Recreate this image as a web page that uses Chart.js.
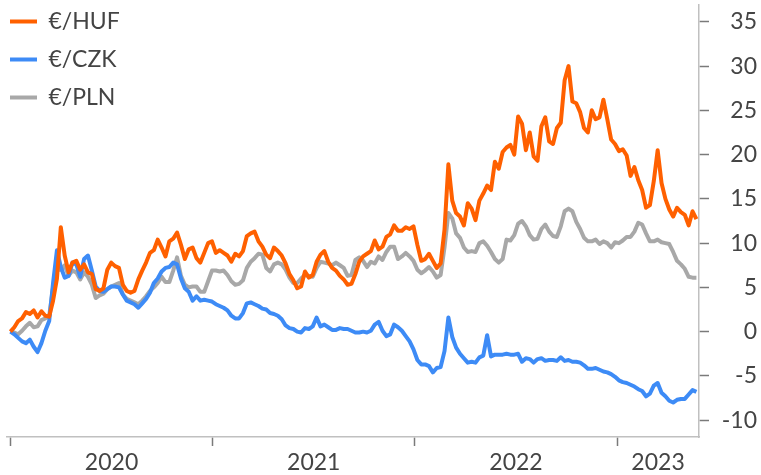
<!DOCTYPE html>
<html>
<head>
<meta charset="utf-8">
<script src="https://cdn.jsdelivr.net/npm/chart.js@4.4.1/dist/chart.umd.min.js"></script>
<style>
  html, body { margin: 0; padding: 0; background: #fff; }
  #wrap { width: 761px; height: 475px; }
</style>
</head>
<body>
<div id="wrap"><canvas id="fxChart" width="761" height="475"></canvas></div>
<script>
// weekly % change vs. first week of 2020
const startYear = 2020;
const seriesNames = ['€/HUF', '€/CZK', '€/PLN'];

const hufChange = [
  0, 0.5, 1.2, 1.5, 2.2, 2.0, 2.4, 1.6, 2.3, 1.8,
  1.7, 3.5, 6.0, 11.8, 8.6, 6.7, 7.8, 8.0, 7.0, 7.6,
  6.7, 6.5, 4.8, 4.6, 4.9, 7.0, 7.8, 7.4, 7.2, 5.3,
  4.6, 4.4, 4.6, 5.9, 6.9, 7.8, 8.9, 9.2, 10.4, 9.5,
  8.5, 10.2, 10.5, 11.2, 9.8, 8.2, 9.3, 9.5, 8.3, 7.8,
  8.9, 10.0, 10.2, 8.9, 9.2, 8.9, 8.6, 7.9, 8.8, 8.5,
  9.1, 10.8, 11.1, 11.3, 10.2, 9.6, 8.7, 8.3, 9.5, 9.1,
  8.6, 7.7, 6.5, 5.8, 4.9, 5.1, 6.8, 6.1, 6.4, 7.9,
  8.7, 9.1, 7.9, 7.2, 6.9, 6.3, 5.9, 5.3, 5.4, 6.5,
  7.9, 8.5, 8.8, 9.1, 10.3, 9.3, 9.6, 10.7, 11.0, 12.0,
  11.4, 11.4, 11.8, 11.6, 11.9, 9.8, 8.0, 8.2, 8.8, 8.0,
  7.2, 7.7, 11.5, 18.9, 14.8, 13.4, 13.0, 12.0, 14.5, 13.9,
  12.6, 14.8, 15.6, 16.5, 16.0, 19.2, 18.4, 20.3, 20.8, 21.1,
  20.0, 24.3, 23.5, 20.5, 22.5, 19.8, 19.3, 23.2, 24.2, 21.5,
  21.2, 23.0, 23.6, 28.4, 30.0, 26.0, 25.8, 24.8, 23.0, 22.5,
  25.0, 24.0, 24.2, 26.2, 24.0, 21.7, 21.2, 20.4, 20.6, 19.9,
  17.6, 18.6, 17.1, 16.0, 14.0, 14.3, 17.0, 20.5, 16.8, 15.0,
  13.8, 13.0, 14.0, 13.5, 13.2, 12.0, 13.6, 12.7
];

const czkChange = [
  0, -0.3, -0.7, -1.1, -1.3, -0.9, -1.7, -2.3, -1.3, 0.1,
  1.2, 5.5, 9.2, 7.3, 6.1, 6.3, 7.8, 7.6, 6.2, 8.2,
  8.6, 6.9, 5.1, 4.6, 4.5, 4.8, 5.1, 5.1, 5.0, 4.2,
  3.5, 3.3, 3.1, 2.7, 3.2, 3.7, 4.4, 5.5, 6.0, 6.8,
  7.2, 7.3, 7.8, 7.6, 6.0, 4.9, 4.5, 3.5, 4.0, 3.5,
  3.6, 3.5, 3.4, 3.1, 2.9, 2.7, 2.4, 1.8, 1.5, 1.5,
  2.1, 3.2, 3.3, 3.1, 2.9, 2.6, 2.5, 2.1, 2.0, 1.8,
  1.4, 0.7, 0.4, 0.3, 0.0, -0.1, 0.4, 0.3, 0.6, 1.6,
  0.6, 0.8, 0.5, 0.2, 0.2, 0.4, 0.3, 0.3, 0.1, -0.1,
  -0.1, 0.0, -0.1, 0.1, 0.8, 1.1, 0.1, -0.5, -0.3, 0.8,
  0.5, 0.1, -0.5, -1.1, -2.0, -3.2, -3.7, -3.7, -3.9, -4.6,
  -4.1, -4.0, -2.2, 1.6, -0.6, -1.8, -2.5, -3.0, -3.5, -3.4,
  -3.5, -2.9, -2.7, -0.4, -2.8, -2.6, -2.6, -2.6, -2.5, -2.6,
  -2.6, -2.5, -3.4, -3.0, -3.1, -3.5, -3.1, -3.0, -3.3, -3.2,
  -3.2, -3.3, -2.9, -3.3, -3.2, -3.4, -3.4, -3.5, -3.8, -4.2,
  -4.2, -4.1, -4.3, -4.5, -4.6, -4.8, -5.1, -5.5, -5.7, -5.8,
  -6.0, -6.2, -6.5, -6.7, -7.3, -7.0, -6.1, -5.8, -6.9, -7.3,
  -7.8, -8.0, -7.7, -7.6, -7.6, -7.1, -6.6, -6.8
];

const plnChange = [
  0, -0.1, -0.3, 0.1, 0.6, 1.0, 0.5, 0.6, 1.3, 1.5,
  1.8, 5.0, 7.0, 7.0, 7.5, 6.3, 6.9, 6.7, 5.9, 6.7,
  6.2, 5.3, 3.8, 4.1, 4.3, 4.8, 5.1, 5.3, 5.5, 4.2,
  3.7, 3.5, 3.3, 3.1, 3.5, 4.0, 4.6, 5.0, 5.5, 6.2,
  5.6, 5.6, 6.9, 8.4, 6.3, 5.3, 5.0, 5.1, 5.1, 4.5,
  4.5, 5.7, 6.9, 6.9, 6.8, 6.9, 6.4, 5.7, 5.3, 5.4,
  5.8, 7.2, 7.9, 8.3, 8.8, 8.7, 7.2, 6.8, 7.6, 7.8,
  7.6, 7.0, 6.1, 5.5, 5.5, 6.0, 6.4, 6.3, 6.2, 7.2,
  7.9, 7.8, 7.7, 7.5, 7.8, 7.5, 7.2, 6.3, 6.4, 8.1,
  8.4, 8.0, 7.3, 7.9, 7.7, 8.5, 8.1, 9.0, 9.6, 9.6,
  8.2, 8.5, 8.9, 8.5, 8.0, 7.0, 6.6, 6.9, 7.3, 6.8,
  6.1, 6.4, 9.5, 13.4, 12.8, 11.1, 10.6, 9.5, 9.0, 9.1,
  9.0, 10.0, 10.2, 9.7, 9.0, 8.2, 7.8, 8.2, 10.4, 10.3,
  10.9, 12.2, 12.5, 11.9, 10.9, 10.4, 10.5, 11.6, 12.1, 11.3,
  10.8, 10.7, 11.9, 13.6, 13.9, 13.6, 12.4, 11.6, 10.6, 10.2,
  10.2, 10.4, 9.9, 10.2, 10.0, 9.5, 10.1, 10.0, 10.3, 10.7,
  10.7, 11.3, 12.3, 12.1, 11.1, 10.2, 10.2, 10.4, 10.1, 10.0,
  9.9, 9.0, 8.0, 7.6, 7.1, 6.2, 6.1, 6.1
];

const yearTicks = [2020, 2021, 2022, 2023];
const valueTicks = [-10, -5, 0, 5, 10, 15, 20, 25, 30, 35];

const X_MIN = 2019.983;
const X_MAX = 2023.405;
const FONT = 'Lato';
const FONT_SIZE = 23;
const TEXT = '#444444';

// week index -> decimal year
const weekToYear = i => startYear + (i * 7) / 365.25;
const toPoints = arr => arr.map((v, i) => ({ x: weekToYear(i), y: v }));

const lineStyle = color => ({
  borderColor: color,
  backgroundColor: color,
  borderWidth: 4,
  borderJoinStyle: 'round',
  pointRadius: 0,
  tension: 0,
  xAxisID: 'x',
  yAxisID: 'y'
});

// legend sits in the top-left corner of the plot
const legendCorner = {
  id: 'legendCorner',
  afterLayout(chart) {
    chart.legend.left = -5;
    chart.legend.top = -5;
  }
};

const fixSize = (w, h) => s => {
  if (w != null) s.width = w;
  if (h != null) s.height = h;
  s.paddingTop = 0;
  s.paddingBottom = 0;
};

new Chart(document.getElementById('fxChart'), {
  type: 'line',
  data: {
    datasets: [
      { label: seriesNames[0], data: toPoints(hufChange), ...lineStyle('#ff6000') },
      { label: seriesNames[1], data: toPoints(czkChange), ...lineStyle('#3d8bf6') },
      { label: seriesNames[2], data: toPoints(plnChange), ...lineStyle('#a8a8a8') }
    ]
  },
  options: {
    responsive: false,
    animation: false,
    layout: { padding: { left: 7, top: 5, right: 4, bottom: 1 } },
    plugins: {
      tooltip: { enabled: false },
      legend: {
        position: 'chartArea',
        align: 'start',
        labels: {
          boxWidth: 27,
          boxHeight: 4,
          padding: 15,
          color: TEXT,
          font: { family: FONT, size: FONT_SIZE, lineHeight: 1 },
          generateLabels: chart => chart.data.datasets.map((ds, i) => ({
            text: ds.label,
            fillStyle: ds.borderColor,
            strokeStyle: ds.borderColor,
            lineWidth: 0,
            fontColor: TEXT,
            hidden: false,
            datasetIndex: i
          }))
        }
      }
    },
    scales: {
      x: {
        type: 'linear',
        position: 'bottom',
        weight: 0,
        min: X_MIN,
        max: X_MAX,
        afterBuildTicks: s => { s.ticks = yearTicks.map(v => ({ value: v })); },
        afterFit: fixSize(null, 9),
        ticks: { display: false },
        grid: {
          display: true,
          drawOnChartArea: false,
          drawTicks: true,
          tickLength: 9,
          tickColor: '#7a7a7a',
          tickWidth: 1.5
        },
        border: { display: true, color: '#c0c0c0', width: 1.5 }
      },
      xLabels: {
        type: 'linear',
        position: 'bottom',
        weight: 1,
        min: X_MIN,
        max: X_MAX,
        afterBuildTicks: s => {
          s.ticks = yearTicks.map(y => ({ value: (y + Math.min(y + 1, X_MAX)) / 2 }));
        },
        afterFit: fixSize(null, 28),
        ticks: {
          autoSkip: false,
          maxRotation: 0,
          padding: 5,
          color: TEXT,
          font: { family: FONT, size: FONT_SIZE, lineHeight: 1 },
          callback: v => String(Math.floor(v))
        },
        grid: { display: false, drawTicks: false },
        border: { display: false }
      },
      y: {
        position: 'right',
        min: -11.9,
        max: 36.9,
        afterBuildTicks: s => { s.ticks = valueTicks.map(v => ({ value: v })); },
        afterFit: fixSize(58, null),
        ticks: {
          padding: 3,
          crossAlign: 'far',
          color: TEXT,
          font: { family: FONT, size: FONT_SIZE, lineHeight: 1 }
        },
        grid: {
          display: true,
          drawOnChartArea: false,
          drawTicks: true,
          tickLength: 10,
          tickColor: '#7a7a7a',
          tickWidth: 1.5
        },
        border: { display: true, color: '#c0c0c0', width: 1.5 }
      }
    }
  },
  plugins: [legendCorner]
});
</script>
</body>
</html>
